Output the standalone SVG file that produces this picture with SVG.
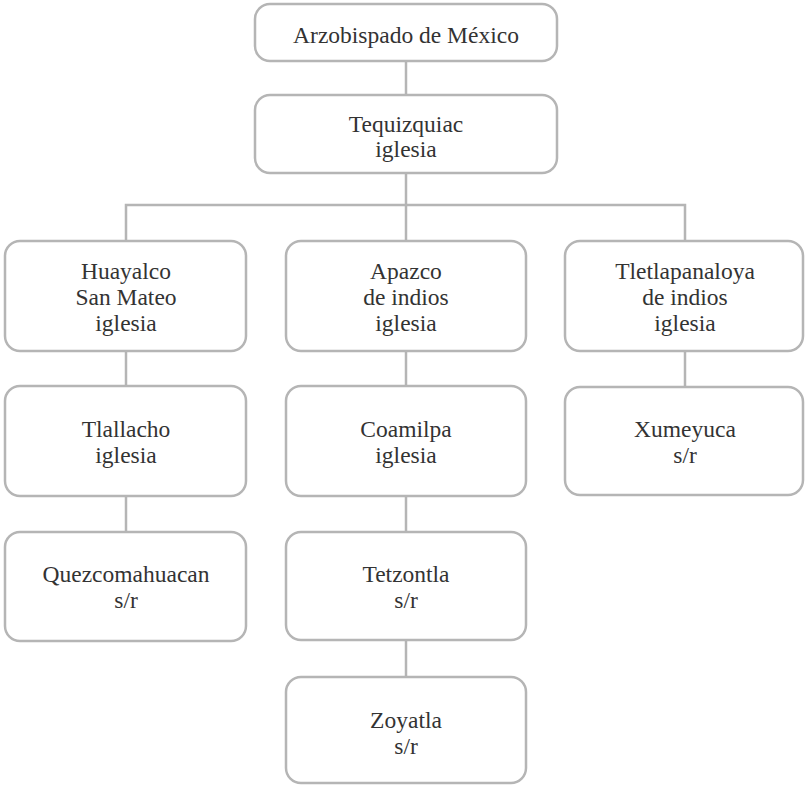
<svg xmlns="http://www.w3.org/2000/svg" width="805" height="785" viewBox="0 0 805 785">
<style>
.box{fill:#fff;stroke:#b5b5b5;stroke-width:2.5}
.ln{stroke:#b5b5b5;stroke-width:2.5;fill:none}
.t{font-family:'Liberation Serif','Times New Roman',Times,'Noto Serif','DejaVu Serif',serif;font-size:23.5px;fill:#333;text-anchor:middle}
</style>
<rect width="805" height="785" fill="#fff"/>
<g id="connectors">
<line class="ln" x1="406" y1="61" x2="406" y2="95"/>
<line class="ln" x1="406" y1="173" x2="406" y2="205"/>
<polyline class="ln" points="126,241 126,205 685,205 685,241"/>
<line class="ln" x1="406" y1="205" x2="406" y2="241"/>
<line class="ln" x1="126" y1="351" x2="126" y2="386"/>
<line class="ln" x1="126" y1="496" x2="126" y2="532"/>
<line class="ln" x1="406" y1="351" x2="406" y2="386"/>
<line class="ln" x1="406" y1="496" x2="406" y2="532"/>
<line class="ln" x1="406" y1="640" x2="406" y2="677"/>
<line class="ln" x1="685" y1="351" x2="685" y2="387"/>
</g>
<g class="t">
<g id="n1"><rect class="box" x="255" y="4" width="302" height="57" rx="15"/><text x="406" y="43">Arzobispado de México</text></g>
<g id="n2"><rect class="box" x="255" y="95" width="302" height="78" rx="15"/><text x="406" y="132">Tequizquiac</text><text x="406" y="157">iglesia</text></g>
<g id="n3"><rect class="box" x="5" y="241" width="241" height="110" rx="15"/><text x="126" y="279">Huayalco</text><text x="126" y="305">San Mateo</text><text x="126" y="331">iglesia</text></g>
<g id="n4"><rect class="box" x="286" y="241" width="240" height="110" rx="15"/><text x="406" y="279">Apazco</text><text x="406" y="305">de indios</text><text x="406" y="331">iglesia</text></g>
<g id="n5"><rect class="box" x="565" y="241" width="238" height="110" rx="15"/><text x="685" y="279">Tletlapanaloya</text><text x="685" y="305">de indios</text><text x="685" y="331">iglesia</text></g>
<g id="n6"><rect class="box" x="5" y="386" width="241" height="110" rx="15"/><text x="126" y="437">Tlallacho</text><text x="126" y="463">iglesia</text></g>
<g id="n7"><rect class="box" x="286" y="386" width="240" height="110" rx="15"/><text x="406" y="437">Coamilpa</text><text x="406" y="463">iglesia</text></g>
<g id="n8"><rect class="box" x="565" y="387" width="238" height="108" rx="15"/><text x="685" y="437">Xumeyuca</text><text x="685" y="463">s/r</text></g>
<g id="n9"><rect class="box" x="5" y="532" width="241" height="109" rx="15"/><text x="126" y="582">Quezcomahuacan</text><text x="126" y="608">s/r</text></g>
<g id="n10"><rect class="box" x="286" y="532" width="240" height="108" rx="15"/><text x="406" y="582">Tetzontla</text><text x="406" y="608">s/r</text></g>
<g id="n11"><rect class="box" x="286" y="677" width="240" height="106" rx="15"/><text x="406" y="728">Zoyatla</text><text x="406" y="754">s/r</text></g>
</g>
</svg>
